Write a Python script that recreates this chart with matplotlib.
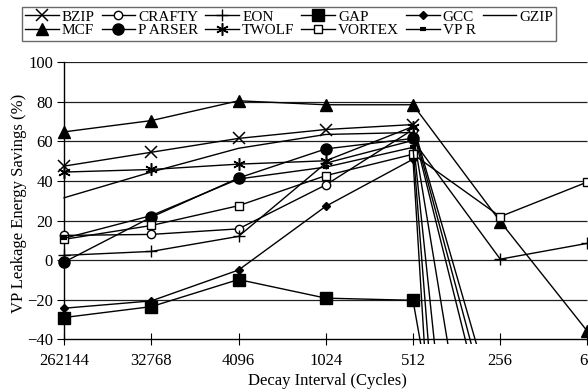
import numpy as np
import matplotlib
matplotlib.use('Agg')
import matplotlib.pyplot as plt

plt.rcParams['font.family'] = ['Liberation Serif', 'DejaVu Serif']

intervals = ['262144', '32768', '4096', '1024', '512', '256', '64']

bzip = [47.5, 54.5, 61.5, 66.0, 68.5, -84, -120]
crafty = [12.5, 13.0, 15.8, 38.0, 66.0, -111, -150]
eon = [2.4, 4.4, 12.0, 49.0, 60.5, 0.5, 8.5]
gap = [-29.0, -23.5, -9.8, -19.2, -20.3, -269, -300]
gcc = [-24.3, -20.6, -5.0, 27.2, 51.0, -669, -700]
gzip = [31.5, 44.5, 56.5, 63.5, 64.5, -203, -250]
mcf = [64.8, 70.5, 80.5, 78.5, 78.5, 19.5, -36.0]
parser = [-1.0, 21.7, 41.5, 56.2, 61.5, -359, -400]
twolf = [44.5, 45.8, 48.5, 50.2, 67.5, -97, -130]
vortex = [10.5, 17.5, 27.5, 42.7, 53.5, 22.0, 39.5]
vpr = [11.0, 22.5, 41.0, 47.0, 57.0, -506, -550]

series = [
    ('BZIP', bzip, dict(marker='x', ms=8, mew=1.1)),
    ('CRAFTY', crafty, dict(marker='o', ms=6, mfc='white', mew=1.0)),
    ('EON', eon, dict(marker='+', ms=9, mew=1.0)),
    ('GAP', gap, dict(marker='s', ms=9)),
    ('GCC', gcc, dict(marker='D', ms=4)),
    ('GZIP', gzip, dict(marker='None')),
    ('MCF', mcf, dict(marker='^', ms=8)),
    ('P ARSER', parser, dict(marker='o', ms=8)),
    ('TWOLF', twolf, dict(marker=(6, 2, 0), ms=9, mew=1.1)),
    ('VORTEX', vortex, dict(marker='s', ms=6, mfc='white', mew=1.0)),
    ('VP R', vpr, dict(marker='_', ms=5, mew=3)),
]

fig = plt.figure(figsize=(5.88, 3.92), dpi=100)
ax = fig.add_axes([0.05697, 0.1218, 0.9429, 0.7195])

x = np.arange(len(intervals))
yticks = np.arange(-40, 101, 20)
ax.hlines(yticks[1:], 0, 6, color='#202020', lw=0.9, zorder=1)

handles = []
for name, vals, style in series:
    h, = ax.plot(x, vals, color='black', lw=1.0, label=name, zorder=3, **style)
    handles.append(h)

ax.set_xlim(-0.35, 6.005)
ax.set_ylim(-42.5, 100)
ax.set_xticks(x)
ax.set_xticklabels(intervals)
ax.set_yticks(yticks)

for s in ['top', 'right']:
    ax.spines[s].set_visible(False)
ax.spines['left'].set_position(('data', 0))
ax.spines['left'].set_bounds(-40, 100)
ax.spines['bottom'].set_position(('data', -40))
ax.spines['bottom'].set_bounds(0, 6.005)
for s in ['left', 'bottom']:
    ax.spines[s].set_linewidth(1.0)
    ax.spines[s].set_zorder(2)

ax.tick_params(axis='y', direction='out', length=5, labelsize=12, pad=3)
ax.tick_params(axis='x', direction='inout', length=9, labelsize=12, pad=5)

ax.set_xlabel('Decay Interval (Cycles)', fontsize=12)
ax.xaxis.set_label_coords(0.531, -0.102)
ax.set_ylabel('VP Leakage Energy Savings (%)', fontsize=12)
ax.yaxis.set_label_coords(-0.012, 0.5)

# legend is filled row by row in the reference: reorder for column-major filling
order = [0, 6, 1, 7, 2, 8, 3, 9, 4, 10, 5]
leg = fig.legend(handles=[handles[i] for i in order], ncol=6, loc='upper left',
                 bbox_to_anchor=(22 / 588, 1 - 7 / 392), fontsize=11,
                 frameon=True, fancybox=False, edgecolor='#444444',
                 handlelength=2.2, handletextpad=0.2, columnspacing=0.45,
                 labelspacing=0.0, borderpad=0.2, borderaxespad=0)
leg.get_frame().set_linewidth(1.0)

fig.savefig('out.png', dpi=100)
